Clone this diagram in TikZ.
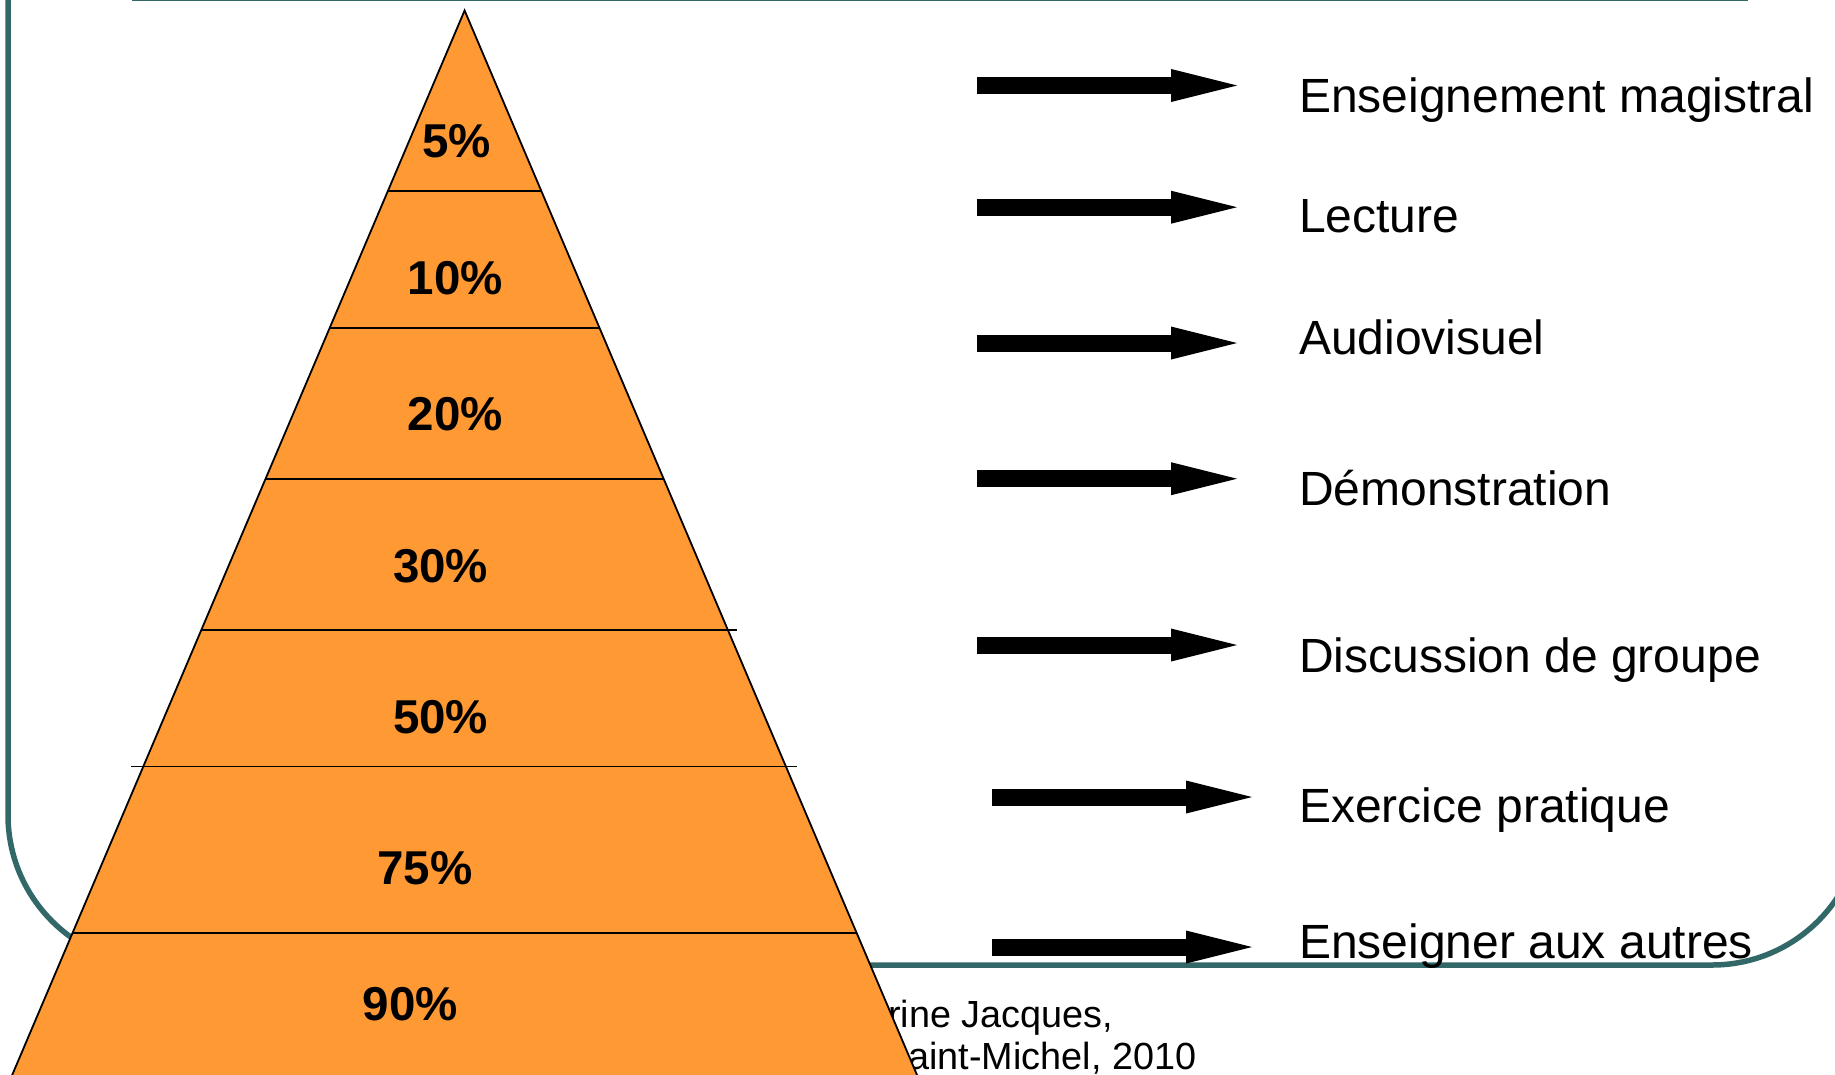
\documentclass[tikz,border=0pt]{standalone}
\usepackage{fontspec}
\setmainfont{Liberation Sans}
\usetikzlibrary{arrows.meta}
\definecolor{frameteal}{RGB}{51,104,104}
\definecolor{pyrorange}{RGB}{255,153,51}
\tikzset{
  frameline/.style={draw=frameteal, line width=5.5pt},
  pyrline/.style={draw=black, line width=1.8pt},
  pct/.style={font=\fontsize{47.5}{56}\selectfont\bfseries, anchor=base, inner sep=0pt},
  lbl/.style={font=\fontsize{48}{57}\selectfont, anchor=base west, inner sep=0pt},
  cite/.style={font=\fontsize{37.8}{44}\selectfont, anchor=base west, inner sep=0pt},
  blockarrow/.style={draw=black, line width=17pt,
    -{Triangle[length=66pt, width=33pt, line width=0pt]}}
}
\begin{document}
\begin{tikzpicture}[x=1pt, y=-1pt]
\useasboundingbox (0,0) rectangle (1835,1074);
\clip (0,0) rectangle (1835,1074);

% slide frame
\draw[frameline, rounded corners=150pt] (8,-20) -- (8,965) -- (1862,965) -- (1862,-20);
\draw[frameline] (132,-2) -- (1748,-2);

% source, partly hidden by the pyramid
\node[cite] (src1) at (888,1027) {rine Jacques,};
\node[cite] (src2) at (883,1069) {Saint-Michel, 2010};

% pyramid
\path[fill=pyrorange] (464.6,10.5) -- (923.4,1090) -- (5.8,1090) -- cycle;
\draw[pyrline] (5.8,1090) -- (464.6,10.5) -- (923.4,1090);
\draw[pyrline] (388.0,190.8) -- (541.2,190.8);
\draw[pyrline] (329.8,327.7) -- (599.4,327.7);
\draw[pyrline] (265.6,478.7) -- (663.6,478.7);
\draw[pyrline] (201.5,629.6) -- (737,629.6);
\draw[pyrline] (131,766.5) -- (797,766.5);
\draw[pyrline] (72.7,932.7) -- (856.5,932.7);

% retention rates
\node[pct] (p5)  at (456.4,157) {5\%};
\node[pct] (p10) at (455.2,294) {10\%};
\node[pct] (p20) at (455.2,430) {20\%};
\node[pct] (p30) at (440.6,582) {30\%};
\node[pct] (p50) at (440.6,733) {50\%};
\node[pct] (p75) at (424.8,884) {75\%};
\node[pct] (p90) at (410.2,1020) {90\%};

% arrows
\coordinate (a1s) at (977,85.5);   \coordinate (a1e) at (1237,85.5);
\coordinate (a2s) at (977,207.2);  \coordinate (a2e) at (1237,207.2);
\coordinate (a3s) at (977,343);    \coordinate (a3e) at (1237,343);
\coordinate (a4s) at (977,478.7);  \coordinate (a4e) at (1237,478.7);
\coordinate (a5s) at (977,645);    \coordinate (a5e) at (1237,645);
\coordinate (a6s) at (992.4,797);  \coordinate (a6e) at (1252,797);
\coordinate (a7s) at (992.4,947);  \coordinate (a7e) at (1252,947);
\foreach \i in {1,...,7} \draw[blockarrow] (a\i s) -- (a\i e);

% teaching methods
\node[lbl] (m1) at (1299,112)   {Enseignement magistral};
\node[lbl] (m2) at (1299,232.7) {Lecture};
\node[lbl] (m3) at (1299,354)   {Audiovisuel};
\node[lbl] (m4) at (1299,505)   {Démonstration};
\node[lbl] (m5) at (1299,672)   {Discussion de groupe};
\node[lbl] (m6) at (1299,822)   {Exercice pratique};
\node[lbl] (m7) at (1299,958)   {Enseigner aux autres};
\end{tikzpicture}
\end{document}
